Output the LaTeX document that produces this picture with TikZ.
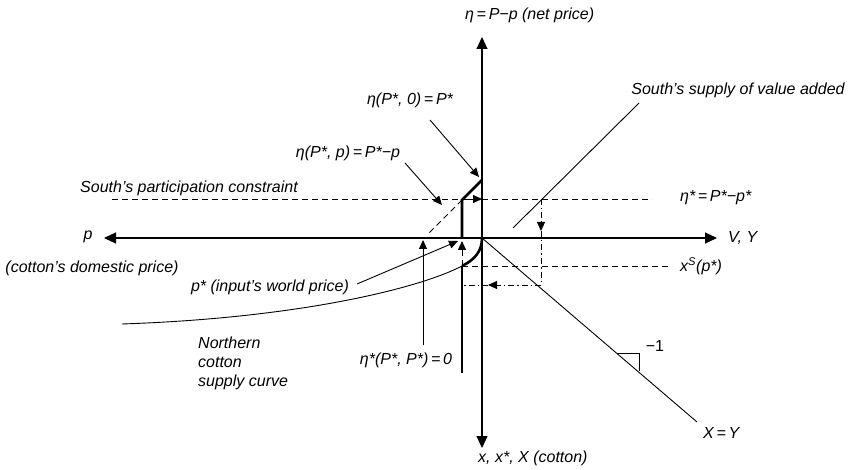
\documentclass[tikz,border=0pt]{standalone}
\usepackage{fontspec}
\setmainfont{Liberation Sans}
\usetikzlibrary{arrows.meta}
\begin{document}
\begin{tikzpicture}[x=1pt,y=-1pt,
  lbl/.style={font=\fontsize{16}{19}\selectfont\itshape, inner sep=0pt},
  axis/.style={line width=1.05pt, {Triangle[length=12pt,width=11pt]}-{Triangle[length=12pt,width=11pt]}},
  ptr/.style={line width=0.9pt, -{Triangle[length=9pt,width=8pt]}},
  tip/.style={-{Triangle[length=9pt,width=8pt]}},
  heavy/.style={line width=2.6pt},
  thinline/.style={line width=0.9pt},
  dsh/.style={line width=0.9pt, dash pattern=on 6pt off 4pt},
  dshdot/.style={line width=0.9pt, dash pattern=on 6pt off 3pt on 1.5pt off 3pt}]
\useasboundingbox (0,0) rectangle (848,470);
% key points
\coordinate (O) at (482,238);
\coordinate (ytop) at (482,37);
\coordinate (ybot) at (482,448);
\coordinate (xl) at (104,238);
\coordinate (xr) at (717,238);
\coordinate (Ptop) at (482,180);
\coordinate (K) at (462,200);
\coordinate (Kax) at (462,238);
\coordinate (C) at (462,266);
\coordinate (Kbot) at (462,373);
\coordinate (S0) at (122,324);
\coordinate (pc0) at (112,199);
\coordinate (pc1) at (652,199);
\coordinate (pcA) at (468,199);
\coordinate (pcB) at (482,199);
\coordinate (D1) at (428,234);
\coordinate (VA0) at (513,228);
\coordinate (VA1) at (639,103);
\coordinate (E) at (541,199);
\coordinate (Em) at (541,231);
\coordinate (F) at (541,285);
\coordinate (Fm) at (488,285);
\coordinate (G) at (462,285);
\coordinate (xs1) at (668,266);
\coordinate (Cup) at (462,241);
\coordinate (XY) at (697,422);
\coordinate (ra1) at (617,353);
\coordinate (ra2) at (639,353);
\coordinate (ra3) at (639,371);
% axes
\draw[axis] (ybot) -- (ytop);
\draw[axis] (xl) -- (xr);
% thick South curve
\draw[heavy, line join=miter] (Ptop) -- (K) -- (Kax);
\draw[heavy] (C) -- (Kbot);
\draw[heavy] (O) .. controls (482,252) and (474,260) .. (C);
\draw[thinline] (C) .. controls (420,288) and (300,318) .. (S0);
% participation constraint
\draw[dsh] (pc0) -- (pc1);
\draw[thinline, tip] (pcA) -- (pcB);
\draw[dsh] (K) -- (D1);
% South's supply of value added
\draw[thinline] (VA0) -- (VA1);
% dash-dot construction
\draw[dshdot, tip] (E) -- (Em);
\draw[dshdot] (Em) -- (F);
\draw[dshdot, tip] (F) -- (Fm);
\draw[dshdot] (Fm) -- (G);
\draw[dsh] (C) -- (xs1);
\draw[dsh, tip] (C) -- (Cup);
% X = Y line
\draw[thinline] (O) -- (XY);
\draw[thinline] (ra1) -- (ra2) -- (ra3);
% labels
\node[lbl, anchor=west] (Leta) at (465,15) {η\,=\,P−p (net price)};
\node[lbl] (Lsva) at (738,90) {South’s supply of value added};
\node[lbl] (Lp0) at (410,100) {η(P*, 0)\,=\,P*};
\node[lbl] (Lpp) at (348,153) {η(P*, p)\,=\,P*−p};
\node[lbl] (Lpc) at (189,188) {South’s participation constraint};
\node[lbl, anchor=west] (Letas) at (680,198) {η*\,=\,P*−p*};
\node[lbl] (Lp) at (88,237) {p};
\node[lbl, anchor=west] (LVY) at (728,238) {V, Y};
\node[lbl] (Lcdp) at (92,268) {(cotton’s domestic price)};
\node[lbl, anchor=west] (Lxs) at (680,266) {x\textsuperscript{S}(p*)};
\node[lbl] (Lpw) at (270,287) {p* (input’s world price)};
\node[lbl, anchor=north west, align=left, font=\fontsize{16}{19}\selectfont\itshape] (Lncs) at (198,337) {Northern\\cotton\\supply curve};
\node[lbl] (Leta0) at (406,360) {η*(P*, P*)\,=\,0};
\node[lbl, font=\fontsize{16}{19}\selectfont\upshape] (Lm1) at (655,346) {−1};
\node[lbl, anchor=west] (LXY) at (703,433) {X\,=\,Y};
\node[lbl, anchor=west] (Lx) at (478,458) {x, x*, X (cotton)};
% pointers
\coordinate (a1s) at (430,120); \coordinate (a1e) at (479,177);
\coordinate (a2s) at (405,163); \coordinate (a2e) at (442,205);
\coordinate (a3s) at (357,284); \coordinate (a3e) at (458,241);
\coordinate (a4s) at (423,345); \coordinate (a4e) at (423,240);
\draw[ptr] (a1s) -- (a1e);
\draw[ptr] (a2s) -- (a2e);
\draw[ptr] (a3s) -- (a3e);
\draw[ptr] (a4s) -- (a4e);
\end{tikzpicture}
\end{document}
